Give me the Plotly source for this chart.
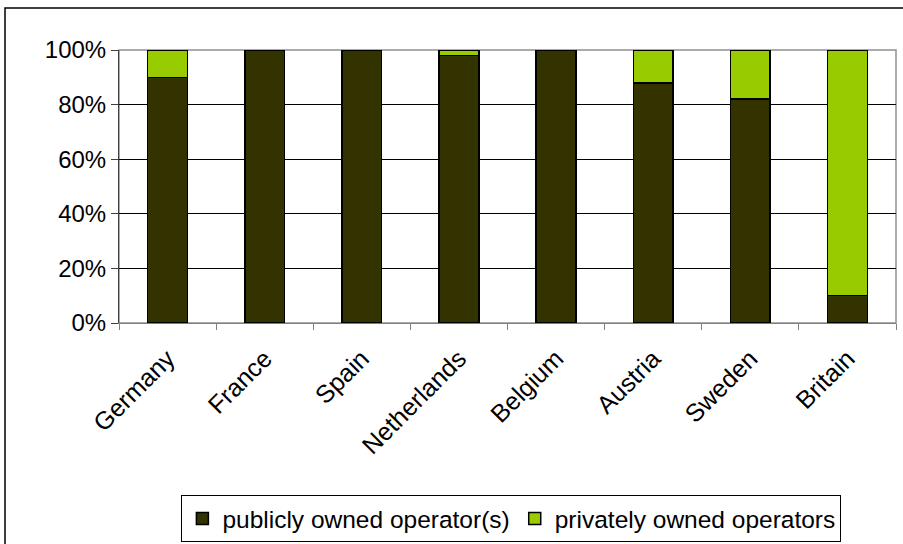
import plotly.graph_objects as go

countries = ["Germany", "France", "Spain", "Netherlands", "Belgium", "Austria", "Sweden", "Britain"]
public_share = [90, 100, 100, 98, 100, 88, 82, 10]
private_share = [10, 0, 0, 2, 0, 12, 18, 90]
y_ticks = [0, 20, 40, 60, 80, 100]
y_tick_labels = ["0%", "20%", "40%", "60%", "80%", "100%"]

W, H = 903, 544
ML, MR, MT, MB = 119, 7, 50, 221
pw, ph = W - ML - MR, H - MT - MB

def px_x(x):
    return (x - ML) / pw

def px_y(y):
    return (H - MB - y) / ph

FONT = "Liberation Sans, Arial, sans-serif"

fig = go.Figure()
fig.add_trace(go.Bar(x=countries, y=public_share, name="publicly owned operator(s)",
                     marker=dict(color="#333300", line=dict(color="#000000", width=1.5))))
fig.add_trace(go.Bar(x=countries, y=private_share, name="privately owned operators",
                     marker=dict(color="#99CC00", line=dict(color="#000000", width=1.5))))

fig.update_layout(
    width=W, height=H,
    margin=dict(l=ML, r=MR, t=MT, b=MB, pad=0, autoexpand=False),
    barmode="stack", bargap=0.59,
    paper_bgcolor="white", plot_bgcolor="white",
    font=dict(family=FONT, size=24, color="#000000"),
    showlegend=True,
    legend=dict(orientation="h", x=0.505, xanchor="center", y=px_y(495), yanchor="top",
                bordercolor="#000000", borderwidth=1, bgcolor="white",
                font=dict(family=FONT, size=24.5), traceorder="normal",
                itemwidth=30, tracegroupgap=0),
    xaxis=dict(type="category", tickangle=-45, showline=True, linecolor="#808080", linewidth=1,
               ticks="outside", tickson="boundaries", ticklen=6, tickcolor="#808080",
               tickfont=dict(family=FONT, size=25), showgrid=False, fixedrange=True,
               ticklabelstandoff=10, automargin=False),
    yaxis=dict(range=[0, 100], tickvals=y_ticks, ticktext=y_tick_labels,
               showline=True, linecolor="#404040", linewidth=1,
               ticks="outside", ticklen=7, tickcolor="#404040",
               showgrid=True, gridcolor="#000000", gridwidth=1, zeroline=False,
               tickfont=dict(family=FONT, size=24), fixedrange=True, automargin=False),
    shapes=[
        dict(type="rect", xref="paper", yref="paper", x0=0, x1=1, y0=0, y1=1,
             line=dict(color="#909090", width=1.5), layer="between"),
        dict(type="rect", xref="paper", yref="paper", x0=px_x(5), x1=px_x(915), y0=px_y(560), y1=px_y(8),
             line=dict(color="#000000", width=1.5), layer="below"),
    ],
)

fig.write_html("out.html", config={"displayModeBar": False},
               post_script="document.body.style.margin='0';document.body.style.overflow='hidden';")
